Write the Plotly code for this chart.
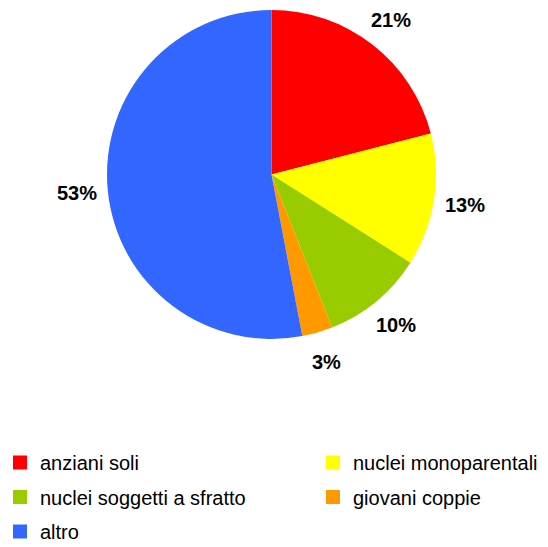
import math
import plotly.graph_objects as go

labels = ["anziani soli", "nuclei monoparentali", "nuclei soggetti a sfratto", "giovani coppie", "altro"]
values = [21, 13, 10, 3, 53]
colors = ["#FF0000", "#FFFF00", "#99CC00", "#FF9900", "#3366FF"]
legend_column = ["legend", "legend2", "legend", "legend2", "legend"]

W, H = 548, 547
cx, cy, R = 271.5, 174.5, 164.5
label_r = R + 31
FONT = "Liberation Sans, Arial, sans-serif"

fig = go.Figure(go.Pie(
    labels=labels,
    values=values,
    marker=dict(colors=colors, line=dict(width=0)),
    sort=False,
    direction="clockwise",
    rotation=0,
    textinfo="none",
    showlegend=False,
    domain=dict(x=[(cx - R) / W, (cx + R) / W], y=[1 - (cy + R) / H, 1 - (cy - R) / H]),
))

# legend entries (one per slice), split in two columns
for lab, col, leg in zip(labels, colors, legend_column):
    fig.add_trace(go.Scatter(
        x=[None], y=[None], mode="markers", name=lab,
        marker=dict(symbol="square", size=14, color=col),
        legend=leg, legendgroup=lab, showlegend=True, hoverinfo="skip",
    ))

total = sum(values)
cum = 0
for v in values:
    mid = (cum + v / 2) / total * 2 * math.pi
    cum += v
    x = cx + label_r * math.sin(mid)
    y = cy - label_r * math.cos(mid)
    fig.add_annotation(
        x=x / W, y=1 - y / H, xref="paper", yref="paper",
        text=f"<b>{v}%</b>", showarrow=False,
        font=dict(family=FONT, size=20, color="black"),
        xanchor="center", yanchor="middle",
    )

leg_common = dict(
    orientation="v", yanchor="top", xanchor="left",
    font=dict(family=FONT, size=20, color="black"),
    tracegroupgap=5.5, itemwidth=30, bgcolor="rgba(0,0,0,0)",
)
fig.update_layout(
    width=W, height=H,
    margin=dict(l=0, r=0, t=0, b=0, autoexpand=False),
    paper_bgcolor="white",
    plot_bgcolor="white",
    xaxis=dict(visible=False),
    yaxis=dict(visible=False),
    legend=dict(x=0.0, y=1 - 443 / H, **leg_common),
    legend2=dict(x=313 / W, y=1 - 443 / H, **leg_common),
)

fig.write_html("out.html", config={"displayModeBar": False},
               post_script="document.body.style.margin='0px';")
